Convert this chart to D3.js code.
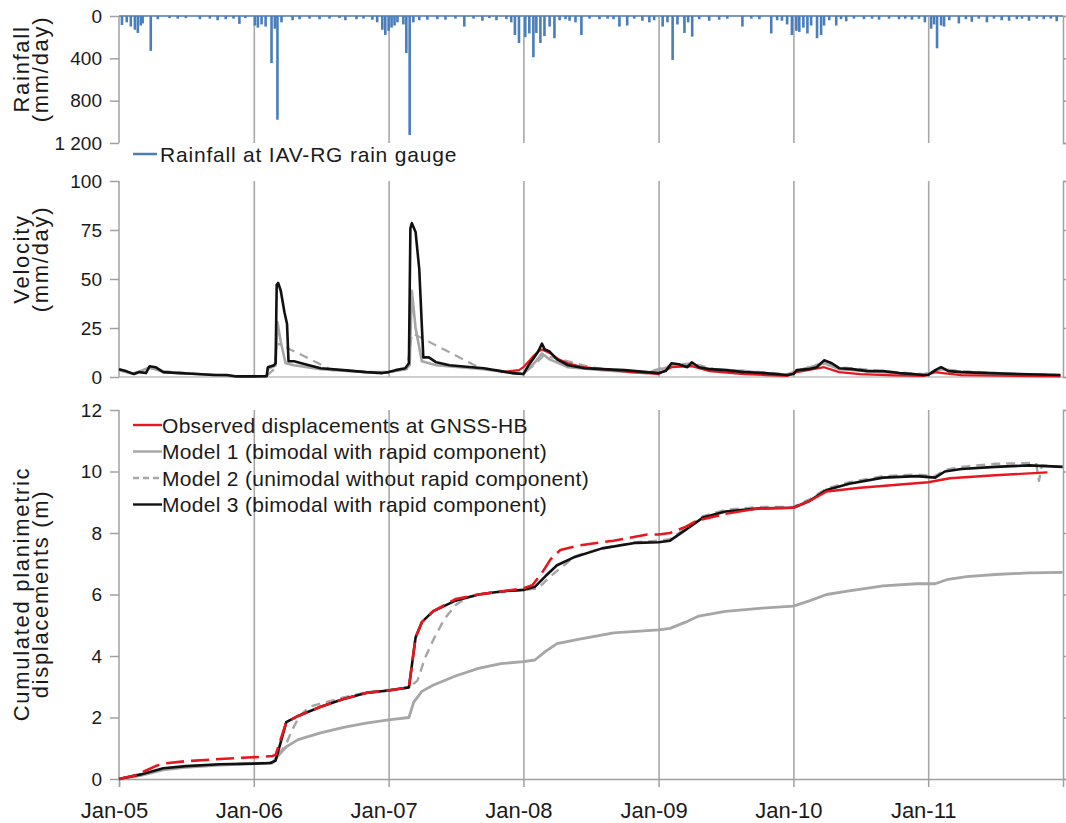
<!DOCTYPE html>
<html>
<head>
<meta charset="utf-8">
<script src="https://cdn.jsdelivr.net/npm/d3@7"></script>
<style>
  body { margin: 0; background: #fff; }
  svg text { font-family: "Liberation Sans", Arial, sans-serif; fill: #1a1a1a; }
</style>
</head>
<body>
<div id="chart"></div>
<script>
// daily rainfall at IAV-RG (mm/day), only the visible events
const rainfall = [
  ['2005-01-09',85],['2005-01-22',60],['2005-02-02',100],['2005-02-13',130],['2005-02-21',160],
  ['2005-03-01',90],['2005-03-06',70],['2005-03-28',330],['2005-04-16',30],['2005-05-18',20],
  ['2005-06-09',25],['2005-07-01',20],['2005-08-08',30],['2005-09-04',25],['2005-09-25',40],
  ['2005-10-17',30],['2005-11-07',25],['2005-11-23',75],['2005-12-09',20],
  ['2006-01-04',90],['2006-01-12',110],['2006-01-22',80],['2006-02-02',100],['2006-02-18',445],
  ['2006-02-27',120],['2006-03-06',980],['2006-03-17',60],['2006-04-16',40],['2006-05-05',30],
  ['2006-06-01',25],['2006-06-28',30],['2006-07-25',25],['2006-08-21',20],['2006-09-06',40],
  ['2006-10-06',30],['2006-10-25',25],['2006-11-18',35],['2006-12-01',60],['2006-12-15',130],
  ['2006-12-23',180],
  ['2007-01-01',140],['2007-01-09',110],['2007-01-17',90],['2007-01-25',60],['2007-02-10',80],
  ['2007-02-18',350],['2007-02-27',1125],['2007-03-09',60],['2007-03-25',40],['2007-04-16',35],
  ['2007-05-13',30],['2007-06-04',35],['2007-07-01',25],['2007-07-25',100],['2007-08-19',25],
  ['2007-09-12',45],['2007-10-01',20],['2007-10-20',40],['2007-11-16',30],['2007-11-29',60],
  ['2007-12-09',180],['2007-12-20',255],
  ['2008-01-06',200],['2008-01-17',165],['2008-01-28',390],['2008-02-05',160],['2008-02-16',255],
  ['2008-02-27',190],['2008-03-12',100],['2008-03-25',210],['2008-04-08',40],['2008-04-24',30],
  ['2008-05-05',45],['2008-05-21',60],['2008-06-06',180],['2008-06-28',25],['2008-07-25',30],
  ['2008-08-16',25],['2008-09-01',30],['2008-09-17',100],['2008-10-08',90],['2008-10-27',25],
  ['2008-11-18',45],['2008-12-07',60],['2008-12-20',40],
  ['2009-01-12',100],['2009-01-25',60],['2009-02-08',415],['2009-02-21',80],['2009-03-12',160],
  ['2009-03-22',60],['2009-04-02',195],['2009-04-21',30],['2009-05-18',45],['2009-06-14',35],
  ['2009-07-06',25],['2009-08-16',100],['2009-09-09',25],['2009-10-01',30],['2009-11-02',165],
  ['2009-11-18',40],['2009-12-01',45],['2009-12-15',80],['2009-12-28',180],
  ['2010-01-09',140],['2010-01-17',150],['2010-01-28',110],['2010-02-08',165],['2010-02-18',90],
  ['2010-03-06',210],['2010-03-17',180],['2010-03-25',90],['2010-04-08',40],['2010-04-27',90],
  ['2010-05-10',30],['2010-05-24',50],['2010-06-14',25],['2010-07-11',30],['2010-08-02',25],
  ['2010-08-21',35],['2010-09-17',25],['2010-10-14',30],['2010-10-31',25],['2010-11-18',35],
  ['2010-12-07',25],['2010-12-23',60],
  ['2011-01-09',120],['2011-01-17',80],['2011-01-25',305],['2011-02-05',90],['2011-02-13',100],
  ['2011-02-27',40],['2011-03-25',70],['2011-04-13',30],['2011-04-29',55],['2011-05-18',25],
  ['2011-06-09',60],['2011-06-28',25],['2011-07-19',40],['2011-08-08',45],['2011-08-29',30],
  ['2011-09-12',25],['2011-10-01',45],['2011-10-22',25],['2011-11-10',30],['2011-11-29',25],
  ['2011-12-15',50]
]

// velocity (mm/day)
const velModel1 = [
  ['2005-01-01',3.5],['2005-02-10',1.5],['2005-03-25',5],['2005-05-01',2.5],['2005-08-01',1.5],
  ['2005-11-15',0.3],['2006-02-05',0.3],['2006-02-08',4],['2006-03-01',6],['2006-03-06',28],
  ['2006-03-15',18],['2006-03-28',7],['2006-04-20',6],['2006-07-01',4],['2006-11-01',2.5],
  ['2007-01-01',2.5],['2007-02-15',4],['2007-02-27',6],['2007-03-05',44],['2007-03-15',25],
  ['2007-04-01',8],['2007-05-10',6],['2007-09-15',4],['2007-12-01',2],['2008-01-01',1.5],
  ['2008-01-30',7],['2008-02-20',12],['2008-03-12',9],['2008-05-01',5],['2008-08-01',3.5],
  ['2008-12-01',2],['2009-02-05',5.5],['2009-04-01',6.5],['2009-05-20',4],['2009-08-20',3],
  ['2009-12-15',1],['2010-01-10',3],['2010-03-25',7],['2010-05-05',4],['2010-09-01',2.5],
  ['2010-12-20',1],['2011-01-20',3],['2011-02-05',4],['2011-04-01',2.5],['2011-09-01',1.5],
  ['2011-12-25',0.8]
]
const velModel2 = [
  ['2005-01-01',3.5],['2005-02-10',2],['2005-03-25',4.5],['2005-05-01',3],['2005-08-01',1.5],
  ['2005-11-15',0.5],['2006-02-05',0.5],['2006-02-25',4],['2006-03-05',17],['2006-03-15',16.5],
  ['2006-08-01',3.5],['2006-11-01',2.5],['2007-01-01',2.5],['2007-02-20',4],['2007-03-05',22],
  ['2007-03-15',21.5],['2007-09-01',5],['2007-11-01',3],['2008-01-01',2],['2008-01-30',6],
  ['2008-02-25',11],['2008-04-01',9.5],['2008-07-01',5],['2008-09-01',3.5],['2008-12-01',2.5],
  ['2009-02-05',6],['2009-04-01',7],['2009-06-01',4],['2009-09-01',3],['2009-12-15',1.5],
  ['2010-01-10',3],['2010-03-25',7.5],['2010-05-05',5],['2010-09-01',3],['2010-12-20',1.5],
  ['2011-01-20',3],['2011-02-10',4],['2011-04-01',3],['2011-09-01',1.5],['2011-12-25',1]
]
const velModel3 = [
  ['2005-01-01',4],['2005-01-20',3],['2005-02-10',1.5],['2005-02-25',2.5],['2005-03-15',2],
  ['2005-03-25',5.5],['2005-04-10',5],['2005-05-01',2.5],['2005-06-15',2],['2005-08-01',1.5],
  ['2005-09-15',1],['2005-10-20',1],['2005-11-15',0.3],['2006-01-01',0.3],['2006-02-05',0.4],
  ['2006-02-08',5],['2006-02-25',6],['2006-03-01',7],['2006-03-04',47],['2006-03-08',48],
  ['2006-03-15',44],['2006-03-25',33],['2006-04-01',27],['2006-04-05',8],['2006-04-20',8],
  ['2006-05-20',6.5],['2006-07-01',4.5],['2006-09-01',3.5],['2006-11-01',2.5],['2006-12-15',2],
  ['2007-01-01',2.5],['2007-01-20',3.5],['2007-02-15',4.5],['2007-02-25',7],['2007-03-01',76],
  ['2007-03-05',78.5],['2007-03-15',74],['2007-03-25',55],['2007-04-01',26],['2007-04-05',10],
  ['2007-04-20',10],['2007-05-10',7.5],['2007-06-15',6],['2007-09-15',4.5],['2007-11-01',3],
  ['2007-12-01',2],['2008-01-01',1.5],['2008-01-15',6],['2008-01-30',10],['2008-02-10',13],
  ['2008-02-20',17],['2008-02-28',14],['2008-03-12',13],['2008-04-01',9],['2008-05-01',6],
  ['2008-06-15',4.5],['2008-08-01',4],['2008-10-01',3.5],['2008-12-01',2.5],['2009-01-01',2],
  ['2009-01-20',3],['2009-02-05',7],['2009-02-25',6.5],['2009-03-20',5],['2009-04-01',7.5],
  ['2009-04-20',5],['2009-05-20',4],['2009-07-01',3.5],['2009-08-20',2.5],['2009-10-15',2],
  ['2009-12-15',1],['2010-01-01',1.5],['2010-01-10',3.5],['2010-02-10',4],['2010-03-05',5],
  ['2010-03-25',8.5],['2010-04-15',7],['2010-05-05',4.5],['2010-06-10',4],['2010-07-20',3],
  ['2010-09-01',3],['2010-10-15',2],['2010-11-20',1.5],['2010-12-20',1],['2011-01-01',1],
  ['2011-01-20',3.5],['2011-02-05',5],['2011-02-25',3],['2011-04-01',2.5],['2011-06-15',2],
  ['2011-09-01',1.5],['2011-12-25',1]
]
const velObserved = [
  ['2007-11-01',2.5],['2007-12-20',3.5],['2008-01-01',5],['2008-01-25',10],['2008-02-10',13],
  ['2008-02-20',14],['2008-03-15',12],['2008-04-05',9],['2008-05-01',7],['2008-06-10',5],
  ['2008-08-01',4],['2008-10-20',2.5],['2008-12-01',2],['2009-01-01',1.5],['2009-02-05',5],
  ['2009-04-01',5.5],['2009-05-20',3],['2009-08-20',1.5],['2009-10-15',1],['2009-12-15',0.5],
  ['2010-01-10',2.5],['2010-03-25',5],['2010-05-05',2.5],['2010-07-01',1.5],['2010-10-01',0.8],
  ['2010-12-20',0.5],['2011-01-20',2.5],['2011-02-10',2],['2011-04-01',1],['2011-09-01',0.5],
  ['2011-12-25',0.3]
]

// cumulated planimetric displacements (m)
const dispModel1 = [
  ['2005-01-01',0],['2005-03-01',0.12],['2005-05-01',0.3],['2005-07-01',0.38],['2005-10-01',0.45],
  ['2006-01-01',0.5],['2006-02-20',0.52],['2006-03-05',0.72],['2006-03-30',1.05],['2006-05-01',1.28],
  ['2006-07-01',1.5],['2006-09-01',1.68],['2006-11-01',1.82],['2007-01-01',1.92],['2007-02-25',2.0],
  ['2007-03-10',2.5],['2007-04-01',2.85],['2007-05-01',3.05],['2007-07-01',3.35],['2007-09-01',3.6],
  ['2007-11-01',3.75],['2008-01-01',3.82],['2008-02-01',3.87],['2008-03-01',4.15],['2008-04-01',4.4],
  ['2008-06-01',4.55],['2008-09-01',4.75],['2009-01-01',4.85],['2009-02-01',4.9],['2009-03-15',5.1],
  ['2009-04-20',5.3],['2009-07-01',5.45],['2009-10-01',5.55],['2010-01-01',5.62],['2010-02-15',5.8],
  ['2010-04-01',6.0],['2010-06-01',6.12],['2010-09-01',6.28],['2010-12-01',6.35],['2011-01-20',6.35],
  ['2011-02-20',6.48],['2011-04-15',6.58],['2011-07-01',6.65],['2011-10-01',6.7],['2011-12-31',6.72]
]
const dispModel2 = [
  ['2005-01-01',0],['2005-03-01',0.12],['2005-05-01',0.32],['2005-07-01',0.4],['2005-10-01',0.47],
  ['2006-01-01',0.5],['2006-02-25',0.55],['2006-03-10',0.8],['2006-03-30',1.15],['2006-04-15',1.6],
  ['2006-05-05',2.05],['2006-06-01',2.35],['2006-07-15',2.5],['2006-09-01',2.65],['2006-11-01',2.82],
  ['2007-01-01',2.9],['2007-02-25',2.97],['2007-03-20',3.2],['2007-04-10',3.95],['2007-05-05',4.6],
  ['2007-06-01',5.2],['2007-07-01',5.65],['2007-08-01',5.9],['2007-10-01',6.05],['2008-01-01',6.15],
  ['2008-02-10',6.2],['2008-03-15',6.6],['2008-04-15',6.9],['2008-05-20',7.25],['2008-08-01',7.5],
  ['2008-11-01',7.7],['2009-01-01',7.75],['2009-02-01',7.8],['2009-03-15',8.15],['2009-05-01',8.55],
  ['2009-07-01',8.75],['2009-10-01',8.85],['2010-01-01',8.85],['2010-02-15',9.1],['2010-04-01',9.45],
  ['2010-06-01',9.65],['2010-09-01',9.85],['2010-12-01',9.9],['2011-01-20',9.85],['2011-02-15',10.05],
  ['2011-04-01',10.15],['2011-07-01',10.25],['2011-10-20',10.28],['2011-10-28',9.7],['2011-11-05',10.2],
  ['2011-12-31',10.15]
]
const dispModel3 = [
  ['2005-01-01',0],['2005-03-01',0.15],['2005-05-01',0.35],['2005-07-01',0.42],['2005-10-01',0.48],
  ['2006-01-01',0.5],['2006-02-15',0.52],['2006-03-01',0.6],['2006-03-30',1.85],['2006-05-01',2.05],
  ['2006-07-01',2.35],['2006-09-01',2.6],['2006-11-01',2.8],['2007-01-01',2.88],['2007-02-25',2.98],
  ['2007-03-15',4.6],['2007-04-01',5.1],['2007-05-01',5.45],['2007-07-01',5.8],['2007-09-01',6.0],
  ['2007-11-01',6.1],['2008-01-01',6.15],['2008-02-01',6.25],['2008-03-01',6.6],['2008-04-01',6.95],
  ['2008-05-15',7.2],['2008-08-01',7.5],['2008-11-01',7.68],['2009-01-01',7.7],['2009-02-01',7.75],
  ['2009-03-15',8.1],['2009-05-01',8.5],['2009-07-01',8.7],['2009-10-01',8.8],['2010-01-01',8.82],
  ['2010-02-15',9.05],['2010-04-01',9.4],['2010-06-01',9.6],['2010-09-01',9.8],['2010-12-01',9.85],
  ['2011-01-20',9.8],['2011-02-15',10.0],['2011-04-01',10.08],['2011-07-01',10.15],['2011-10-01',10.2],
  ['2011-12-31',10.15]
]
// observed: gappy GNSS record up to mid-2009, continuous after
const dispObservedGappy = [
  ['2005-01-01',0],['2005-02-15',0.12],['2005-03-20',0.3],['2005-04-10',0.42],['2005-05-01',0.5],
  ['2005-07-01',0.58],['2005-10-01',0.65],['2005-12-15',0.7],['2006-01-25',0.72],['2006-02-20',0.75],
  ['2006-03-01',0.78],['2006-03-30',1.85],['2006-05-01',2.05],['2006-07-01',2.35],['2006-09-01',2.6],
  ['2006-11-01',2.8],['2007-01-01',2.88],['2007-02-25',2.98],['2007-03-15',4.6],['2007-04-01',5.1],
  ['2007-05-01',5.45],['2007-07-01',5.85],['2007-09-01',6.0],['2007-11-01',6.1],['2008-01-01',6.2],
  ['2008-01-25',6.3],['2008-02-20',6.7],['2008-03-15',7.15],['2008-04-10',7.45],['2008-06-01',7.6],
  ['2008-09-01',7.75],['2008-12-01',7.95],['2009-01-01',7.95],['2009-02-01',8.0],['2009-03-15',8.2],
  ['2009-04-15',8.4],['2009-07-01',8.62]
]
const dispObserved = [
  ['2009-07-01',8.62],['2009-10-01',8.8],['2010-01-01',8.82],['2010-02-15',9.05],['2010-04-01',9.35],
  ['2010-07-01',9.47],['2011-01-01',9.65],['2011-03-01',9.78],['2011-07-01',9.88],['2011-11-20',9.97]
]

const tickYears = ['2005','2006','2007','2008','2009','2010','2011']
const rainTicks = [0, 400, 800, 1200]
const velTicks = [0, 25, 50, 75, 100]
const dispTicks = [0, 2, 4, 6, 8, 10, 12]
const legendLabels = [
  'Observed displacements at GNSS-HB',
  'Model 1 (bimodal with rapid component)',
  'Model 2 (unimodal without rapid component)',
  'Model 3 (bimodal with rapid component)'
]

const width = 1066, height = 823
const parse = d3.timeParse('%Y-%m-%d')
const yearDates = tickYears.map(y => parse(y + '-01-01'))

const x = d3.scaleTime()
  .domain([parse('2005-01-01'), parse('2012-01-01')])
  .range([119, 1063])
const yRain = d3.scaleLinear().domain([0, 1200]).range([16, 143])
const yVel = d3.scaleLinear().domain([0, 100]).range([377, 181])
const yDisp = d3.scaleLinear().domain([0, 12]).range([779, 410])

const C = {grid: '#a8a8a8', axis: '#a0a0a0', red: '#e8161e', grey: '#a6a6a6', black: '#111', blue: '#4a7ebb'}

const svg = d3.select('#chart').append('svg')
  .attr('width', width)
  .attr('height', height)
  .style('background', '#fff')

const fmtSpace = d3.formatLocale({decimal: '.', thousands: ' ', grouping: [3], currency: ['', '']}).format(',')

function styleAxis(g) {
  g.select('.domain').attr('stroke', C.axis).attr('stroke-width', 1.5)
  g.selectAll('.tick line').attr('stroke', C.axis).attr('stroke-width', 1.5)
  g.selectAll('.tick text').style('font-size', '19px').attr('fill', '#1a1a1a')
}

// one panel: vertical year grid, left/right axes
function panel(y, ticks, fmt) {
  const [y0, y1] = y.range()
  const grid = d3.axisBottom(x)
    .tickValues(yearDates.slice(1))
    .tickSize(-(Math.max(y0, y1) - Math.min(y0, y1)))
    .tickFormat('')
  svg.append('g')
    .attr('transform', `translate(0, ${Math.max(y0, y1)})`)
    .call(grid)
    .call(g => g.select('.domain').remove())
    .call(g => g.selectAll('.tick line').attr('stroke', C.grid).attr('stroke-width', 1.6))
  svg.append('g')
    .attr('transform', `translate(${x.range()[0]}, 0)`)
    .call(d3.axisLeft(y).tickValues(ticks).tickSize(9).tickPadding(8).tickFormat(fmt))
    .call(g => g.select('.domain').attr('d', `M-0,${y0}V${y1}`))
    .call(styleAxis)
  svg.append('g')
    .attr('transform', `translate(${x.range()[1]}, 0)`)
    .call(d3.axisRight(y).tickValues(ticks).tickSize(7).tickFormat(''))
    .call(styleAxis)
}

panel(yRain, rainTicks, fmtSpace)
panel(yVel, velTicks, d => d)
panel(yDisp, dispTicks, d => d)

// baselines
svg.append('line')
  .attr('x1', x.range()[0]).attr('x2', x.range()[1])
  .attr('y1', yRain(0)).attr('y2', yRain(0))
  .attr('stroke', '#7d98c4').attr('stroke-width', 2)
svg.append('line')
  .attr('x1', x.range()[0]).attr('x2', x.range()[1])
  .attr('y1', yVel(0)).attr('y2', yVel(0))
  .attr('stroke', C.axis).attr('stroke-width', 1.2)

// bottom date axis
svg.append('g')
  .attr('transform', `translate(0, ${yDisp(0)})`)
  .call(d3.axisBottom(x).tickValues(yearDates).tickSize(8).tickPadding(15).tickFormat(d3.timeFormat('%b-%y')))
  .call(styleAxis)
  .call(g => g.selectAll('.tick text').style('font-size', '22px').attr('x', -5))

// rainfall bars (hanging from the top)
svg.append('g').selectAll('rect')
  .data(rainfall)
  .join('rect')
  .attr('x', d => x(parse(d[0])) - 1.3)
  .attr('width', 2.6)
  .attr('y', yRain(0))
  .attr('height', d => yRain(d[1]) - yRain(0))
  .attr('fill', C.blue)

function drawLine(data, y, color, w, dash) {
  const line = d3.line()
    .x(d => x(parse(d[0])))
    .y(d => y(d[1]))
  svg.append('path')
    .datum(data)
    .attr('d', line)
    .attr('fill', 'none')
    .attr('stroke', color)
    .attr('stroke-width', w)
    .attr('stroke-linejoin', 'round')
    .attr('stroke-dasharray', dash || null)
}

// velocity
drawLine(velModel1, yVel, C.grey, 2.6)
drawLine(velModel2, yVel, C.grey, 2.2, '9,6')
drawLine(velObserved, yVel, C.red, 2.2)
drawLine(velModel3, yVel, C.black, 2.6)

// displacements
drawLine(dispModel1, yDisp, C.grey, 2.8)
drawLine(dispModel2, yDisp, C.grey, 2.4, '9,6')
drawLine(dispModel3, yDisp, C.black, 2.6)
drawLine(dispObservedGappy, yDisp, C.red, 2.6, '18,7')
drawLine(dispObserved, yDisp, C.red, 2.4)

// axis titles
function title(lines, cy) {
  lines.forEach((t, i) => {
    svg.append('text')
      .attr('transform', `translate(${29 + i * 19}, ${cy}) rotate(-90)`)
      .attr('text-anchor', 'middle')
      .style('font-size', '22px')
      .style('letter-spacing', '1.7px')
      .text(t)
  })
}
title(['Rainfall', '(mm/day)'], 69)
title(['Velocity', '(mm/day)'], 259)
title(['Cumulated planimetric', 'displacements (m)'], 594)

// rainfall legend
svg.append('line')
  .attr('x1', 133).attr('x2', 157).attr('y1', 154).attr('y2', 154)
  .attr('stroke', C.blue).attr('stroke-width', 2.5)
svg.append('text')
  .attr('x', 160).attr('y', 162)
  .style('font-size', '21px').style('letter-spacing', '0.8px')
  .text('Rainfall at IAV-RG rain gauge')

// displacement legend
const legendStyles = [
  {color: C.red, dash: null},
  {color: C.grey, dash: null},
  {color: C.grey, dash: '6,4'},
  {color: C.black, dash: null}
]
const leg = svg.append('g')
legendLabels.forEach((t, i) => {
  const cy = 425 + i * 26.5
  leg.append('line')
    .attr('x1', 133).attr('x2', 162).attr('y1', cy).attr('y2', cy)
    .attr('stroke', legendStyles[i].color).attr('stroke-width', 2.4)
    .attr('stroke-dasharray', legendStyles[i].dash)
  leg.append('text')
    .attr('x', 162).attr('y', cy + 7.5)
    .style('font-size', '21px').style('letter-spacing', '0.3px')
    .text(t)
})
</script>
</body>
</html>
